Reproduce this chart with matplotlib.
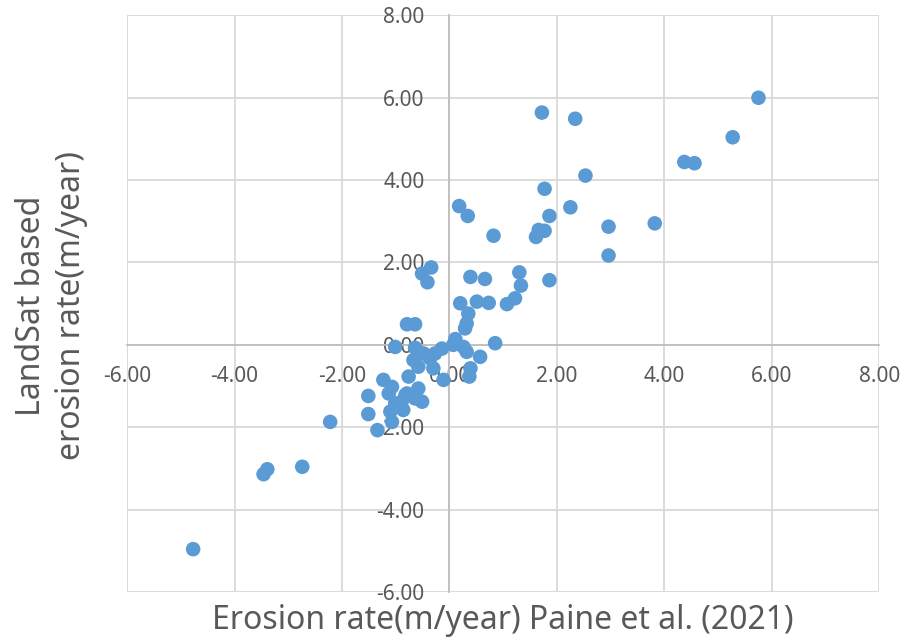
import matplotlib
matplotlib.use("Agg")
import matplotlib.pyplot as plt
from matplotlib.ticker import MultipleLocator, FormatStrFormatter

plt.rcParams['font.family'] = ['Noto Sans', 'DejaVu Sans']

# Erosion rate (m/year), Paine et al. (2021)
paine = [-4.77, -3.46, -3.39, -2.74, -2.22,
         -1.34, -1.07, -1.51, -1.10, -0.86, -1.01, -0.89, -0.51, -0.64, -0.79,
         -1.13, -1.51, -1.07, -0.58, -1.23, -0.76, -0.82,
         -1.01, -0.64, -0.67, -0.48, -0.36, -0.27, -0.58, -0.30, -0.14, 0.07,
         0.11, 0.26, 0.32, 0.57, 0.85, 0.39, -0.11, 0.37, -0.79, -0.64,
         0.29, 0.32, 0.35, 0.20, 0.51, 0.73, 1.07, 1.22,
         -0.34, -0.51, -0.41,
         0.39, 0.66, 1.30, 1.33, 1.86,
         0.82, 1.66, 1.77, 1.61,
         0.18, 0.34, 2.25, 1.86, 1.77,
         2.53, 1.72, 2.34,
         2.96, 3.82, 2.96,
         4.37, 4.56, 5.27, 5.75]
# LandSat based erosion rate (m/year)
landsat = [-4.96, -3.14, -3.02, -2.96, -1.87,
           -2.07, -1.87, -1.68, -1.62, -1.58, -1.42, -1.38, -1.38, -1.30, -1.18,
           -1.18, -1.24, -1.02, -1.06, -0.85, -0.77, -1.22,
           -0.05, -0.07, -0.37, -0.21, -0.33, -0.21, -0.53, -0.57, -0.09, 0.00,
           0.14, -0.05, -0.17, -0.29, 0.04, -0.57, -0.85, -0.77, 0.50, 0.50,
           0.40, 0.52, 0.76, 1.01, 1.05, 1.02, 0.99, 1.13,
           1.88, 1.73, 1.52,
           1.65, 1.60, 1.76, 1.44, 1.57,
           2.65, 2.79, 2.77, 2.62,
           3.37, 3.13, 3.34, 3.13, 3.79,
           4.11, 5.64, 5.49,
           2.87, 2.95, 2.17,
           4.44, 4.41, 5.04, 6.00]

grey_txt = "#595959"

fig = plt.figure(figsize=(9.01, 6.4), dpi=100)
ax = fig.add_axes([0.141, 0.075, 0.835, 0.901])

ax.scatter(paine, landsat, s=110, color="#5B9BD5", edgecolors="none", zorder=3)

ax.set_xlim(-6, 8)
ax.set_ylim(-6, 8)
ax.xaxis.set_major_locator(MultipleLocator(2))
ax.yaxis.set_major_locator(MultipleLocator(2))
ax.xaxis.set_major_formatter(FormatStrFormatter("%.2f"))
ax.yaxis.set_major_formatter(FormatStrFormatter("%.2f"))
ax.grid(True, color="#D9D9D9", linewidth=1.3, zorder=0)
ax.set_axisbelow(True)

for s in ["top", "right"]:
    ax.spines[s].set_visible(False)
ax.spines["left"].set_position("zero")
ax.spines["bottom"].set_position("zero")
ax.spines["left"].set_color("#BFBFBF")
ax.spines["bottom"].set_color("#BFBFBF")
ax.spines["left"].set_linewidth(1.3)
ax.spines["bottom"].set_linewidth(1.3)

ax.tick_params(axis="both", length=0, labelsize=15, labelcolor=grey_txt)
ax.tick_params(axis="x", pad=15)
ax.tick_params(axis="y", pad=18)

fig.text(0.558, 0.031, "Erosion rate(m/year) Paine et al. (2021)", ha="center", va="center",
         fontsize=23, color=grey_txt)
fig.text(0.057, 0.522, "LandSat based\nerosion rate(m/year)", ha="center", va="center",
         rotation=90, fontsize=23, color=grey_txt, linespacing=1.3)

fig.savefig("out.png", dpi=100)
